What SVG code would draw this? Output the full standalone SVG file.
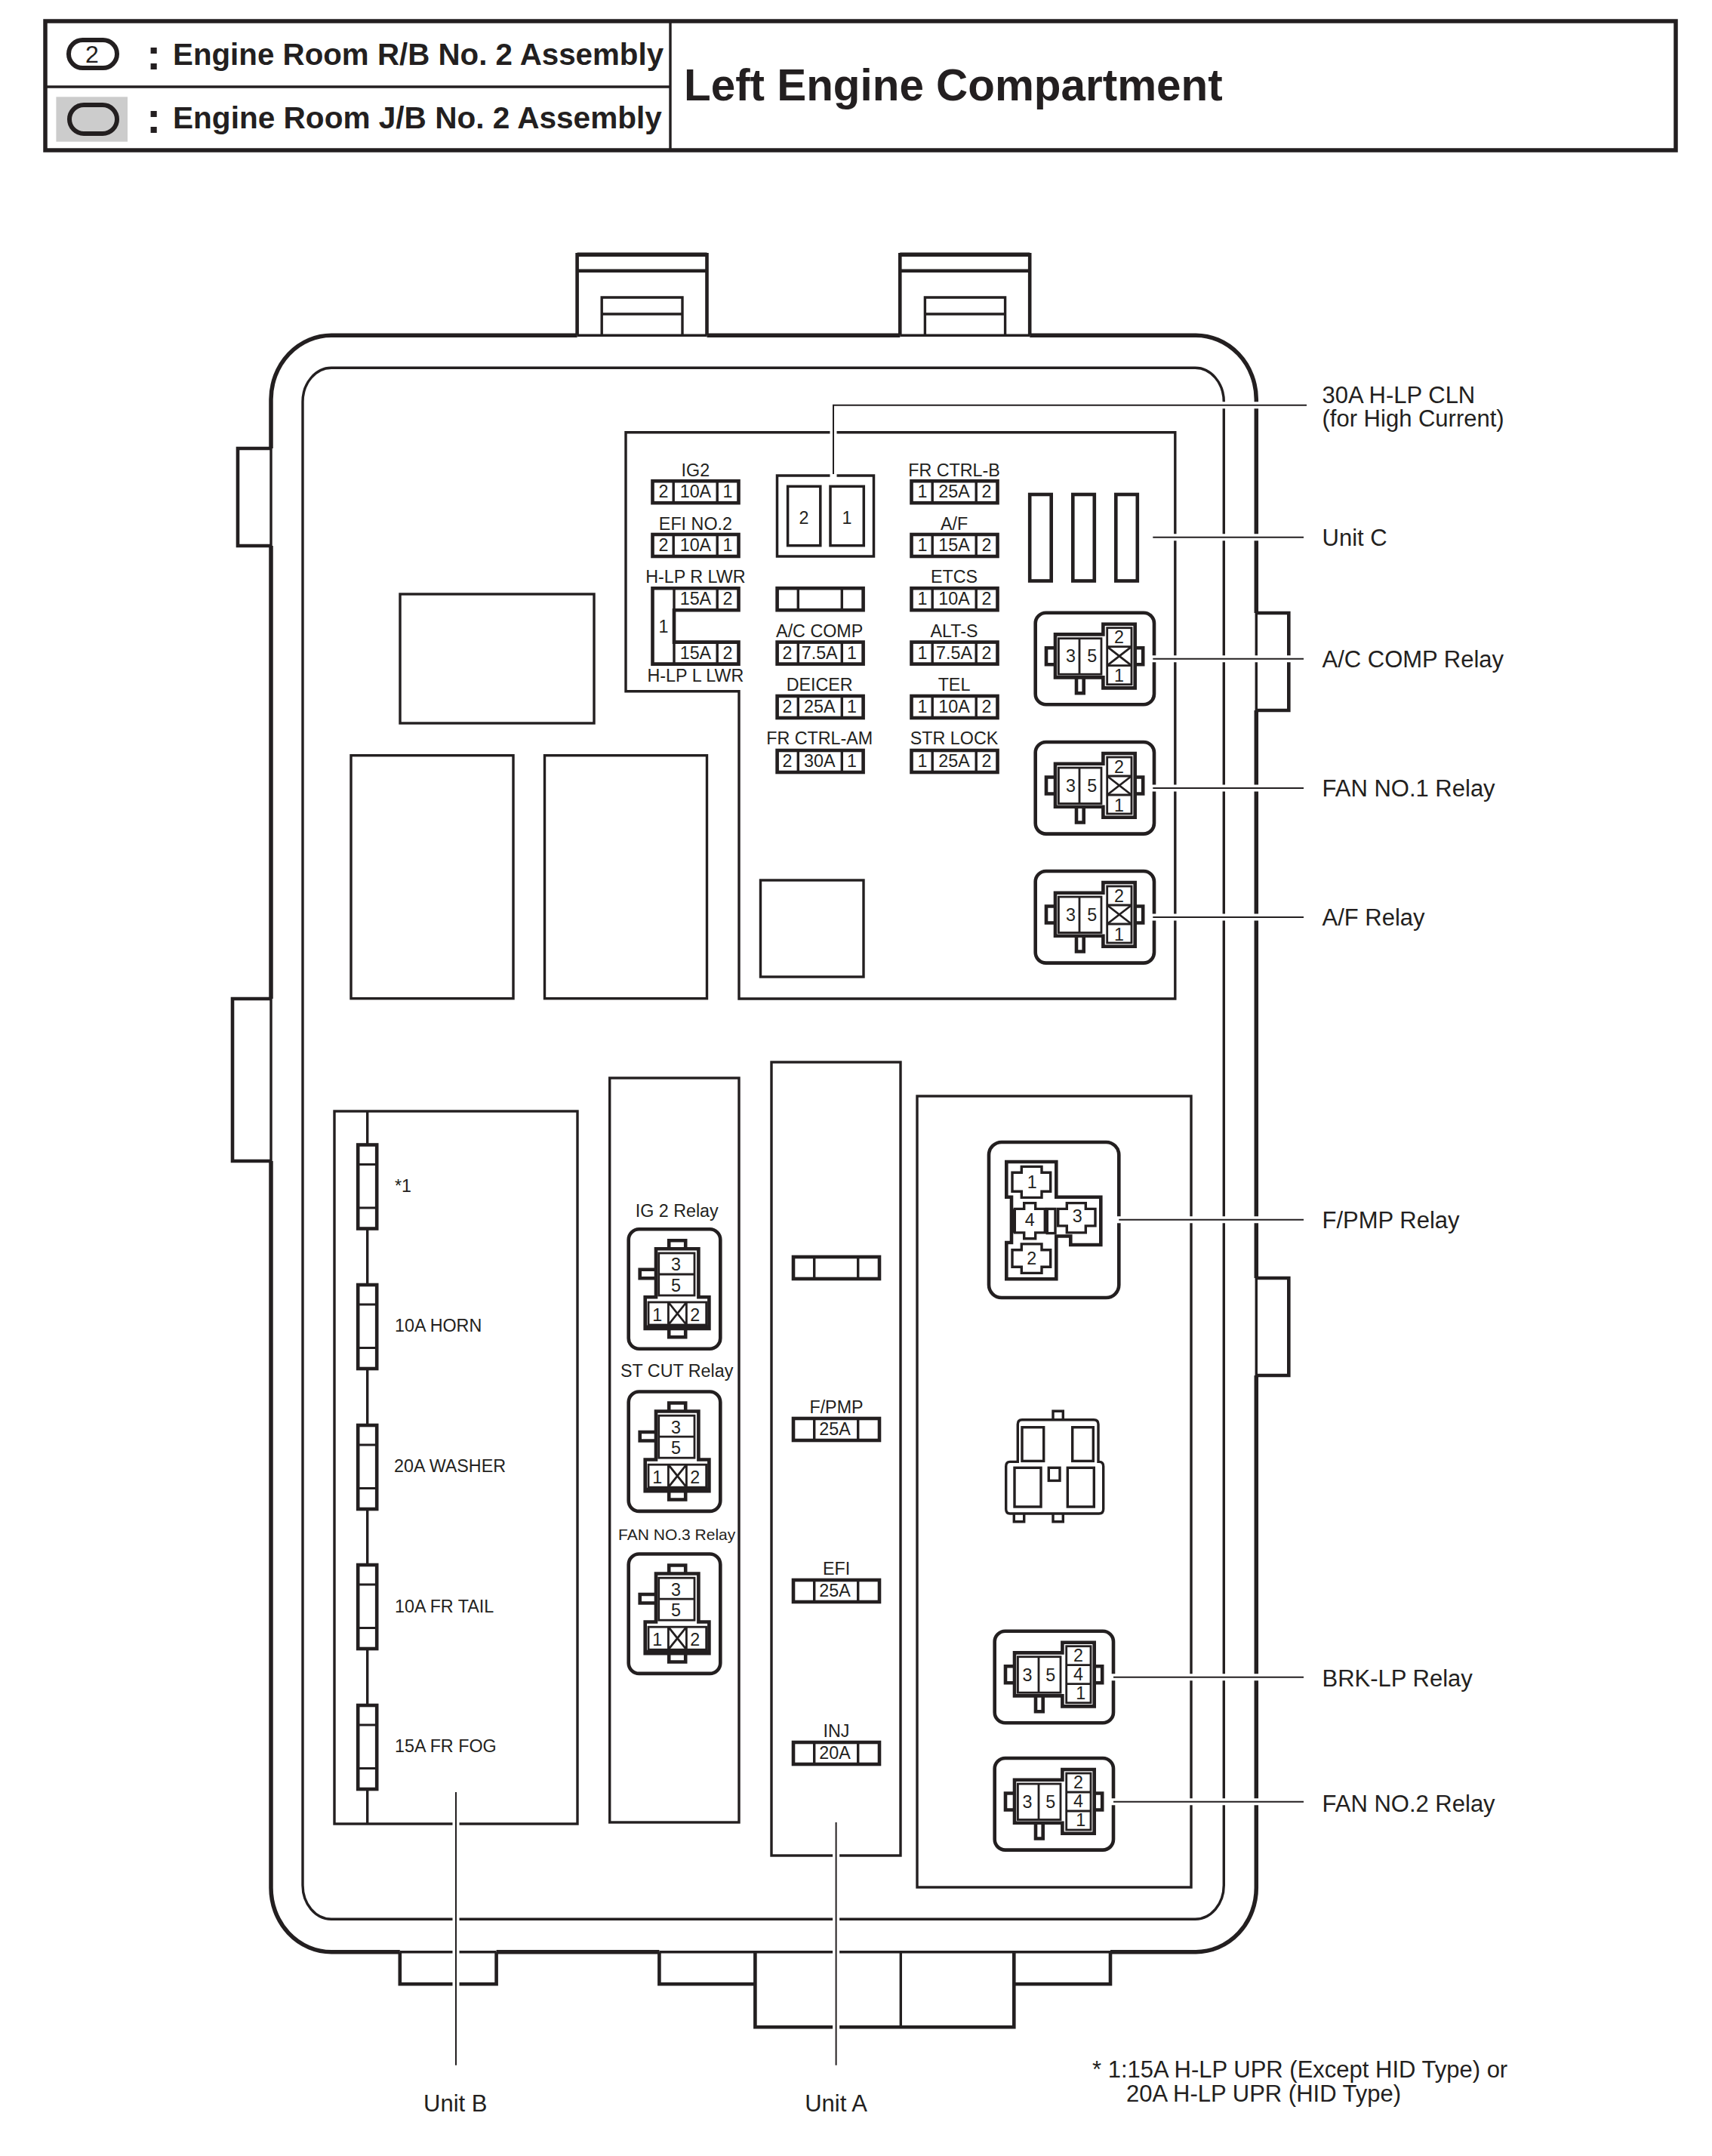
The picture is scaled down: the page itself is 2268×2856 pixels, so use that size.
<svg xmlns="http://www.w3.org/2000/svg" xmlns:xlink="http://www.w3.org/1999/xlink" width="2268" height="2856" viewBox="0 0 2268 2856">
<style>
text{font-family:"Liberation Sans",Arial,sans-serif;fill:#231f20}
.s{font-size:23.3px;text-anchor:middle}
.l{font-size:31px}
.u{font-size:23.3px}
.h{font-size:40.3px;font-weight:bold}
.c{font-size:58px;font-weight:bold;text-anchor:middle}
.o{fill:none;stroke:#231f20;stroke-linejoin:miter}
.t5{stroke-width:5.5}.t4{stroke-width:4.6}.t35{stroke-width:3.5}.t3{stroke-width:3.4}.t2{stroke-width:2.8}
.lead{fill:none;stroke:#231f20;stroke-width:2}
.gap{fill:none;stroke:#fff;stroke-width:9}
</style>
<defs>
<g id="fuse" class="o">
<rect class="t4" x="0" y="0" width="114" height="29"/>
<path class="t3" d="M27.7 0V29M85.7 0V29"/>
</g>
<g id="vfuse" class="o">
<rect class="t4" x="0" y="0" width="25" height="111" style="fill:#fff"/>
<path class="t2" d="M0 26H25M0 83.5H25"/>
</g>
<g id="relayH" class="o">
<rect class="t4" x="0" y="0" width="157.3" height="121.6" rx="14"/>
<path class="t4" d="M26.3 28.7H89.7V15H132V99.7H89.7V85.7H26.3Z"/>
<rect class="t2" x="30.7" y="34" width="56.6" height="47.5"/>
<rect class="t2" x="95" y="20" width="32.3" height="75"/>
<path class="t2" d="M58.3 34V81.5M95 45H127.3M95 70H127.3"/>
<path class="t4" d="M26.3 46.5H14.3V68.5H26.3M132 46.5H142.5V68.5H132M54.3 85.7V106.5H64V85.7"/>
</g>
<g id="relayX" class="o">
<use href="#relayH" xlink:href="#relayH"/>
<path class="t2" d="M95 45L127.3 70M127.3 45L95 70"/>
</g>
<g id="relayV" class="o">
<rect class="t4" x="0" y="0" width="121.6" height="158.4" rx="14"/>
<path class="t4" d="M36.3 26H92.7V90H106.7V131.7H22V90H36.3Z"/>
<rect class="t2" x="40" y="31.7" width="47.3" height="56"/>
<rect class="t2" x="26.3" y="96.7" width="76.7" height="30"/>
<path class="t2" d="M40 59.7H87.3M52.7 96.7V126.7M76.7 96.7V126.7M52.7 96.7L76.7 126.7M76.7 96.7L52.7 126.7"/>
<path class="t4" d="M53.5 26V15H75.5V26M53.5 131.7V143H75.5V131.7M36.3 53.5H15V65H36.3"/>
<path class="t5" d="M22 130H106.7"/>
</g>
</defs>

<g id="header">
<rect class="o t5" x="60" y="28" width="2160" height="171"/>
<path class="o t3" d="M60 115H888M888 28V199"/>
<rect x="74.4" y="128.3" width="94.6" height="59.4" fill="#ccc"/>
<rect class="o" stroke-width="6" x="91" y="53" width="64" height="37" rx="18.5"/>
<text x="122" y="83" font-size="32" text-anchor="middle">2</text>
<rect class="o" stroke-width="6" x="92" y="139" width="63" height="38" rx="19"/>
<text class="c" x="203.6" y="92">:</text>
<text class="c" x="203.6" y="176">:</text>
<text class="h" x="229" y="85.5">Engine Room R/B No. 2 Assembly</text>
<text class="h" x="229" y="169.5" style="font-size:40.6px">Engine Room J/B No. 2 Assembly</text>
<text x="906" y="133" font-size="58.4" font-weight="bold">Left Engine Compartment</text>
</g>

<g id="housing">
<path class="o t5" d="M936.5 444.3H1192.3M1364.2 444.3H1584A80 85 0 0 1 1664.3 529V812M1664.3 941V1693M1664.3 1822V2500A80 85 0 0 1 1584 2585.7H1471M873.4 2585.7H657.6M529.8 2585.7H439A80 85 0 0 1 359 2500V1538M359 1323V723M359 594V529A80 85 0 0 1 439 444.3H764.6"/>
<path class="o t3" d="M764.6 444.3H936.5M1192.3 444.3H1364.2M529.8 2585.7H657.6M873.4 2585.7H1471M1664.3 812V941M1664.3 1693V1822M359 1538V1323M359 723V594"/>
<rect class="o t3" x="401" y="487.3" width="1220.3" height="2055" rx="38" ry="45"/>
<path class="o t4" d="M764.6 444.3V337.3H936.5V444.3M764.6 358.7H936.5M1192.3 444.3V337.3H1364.2V444.3M1192.3 358.7H1364.2"/>
<path class="o t5" d="M764.6 337.3H936.5M1192.3 337.3H1364.2"/>
<path class="o t3" d="M797.2 444.3V394H904V444.3M797.2 416H904M1225.4 444.3V394H1331.6V444.3M1225.4 416H1331.6"/>
<path class="o t4" d="M359 594H315V723H359M359 1323H308V1538H359M1664.3 812H1707.3V941H1664.3M1664.3 1693H1707.3V1822H1664.3"/>
<path class="o t4" d="M529.8 2585.7V2628.3H657.6V2585.7M873.4 2585.7V2628.3H1000.4M1471 2585.7V2628.3H1343.3"/>
<path class="o t4" d="M1000.4 2585.7V2685.3H1343.3V2585.7"/>
<path class="o t3" d="M1193.3 2585.7V2685.3"/>
<rect class="o t3" x="530" y="787" width="257" height="171"/>
<rect class="o t3" x="465" y="1000.7" width="215" height="322"/>
<rect class="o t3" x="721.5" y="1000.7" width="215" height="322"/>
<rect class="o t3" x="1007.5" y="1166" width="136.5" height="128"/>
</g>

<g id="unit-c-panel">
<path class="o t3" d="M829 572.7V915.7H979V1323H1556.8V572.7Z"/>
<rect class="o t35" x="1029.5" y="630" width="128" height="107"/>
<rect class="o t35" x="1043.6" y="644.3" width="43.2" height="78.4"/>
<rect class="o t35" x="1100" y="644.3" width="44.3" height="78.4"/>
<text class="s" x="1065" y="694">2</text>
<text class="s" x="1122" y="694">1</text>
<rect class="o t4" x="1364.2" y="655" width="28.5" height="114.5"/>
<rect class="o t4" x="1421.3" y="655" width="28.5" height="114.5"/>
<rect class="o t4" x="1478.3" y="655" width="28.5" height="114.5"/>
</g>

<g id="fuse-ig2"><text class="s" x="921.4" y="630.5">IG2</text><use href="#fuse" xlink:href="#fuse" x="864.5" y="637.2"/><text class="s" x="879" y="659.3">2</text><text class="s" x="921.4" y="659.3">10A</text><text class="s" x="964" y="659.3">1</text></g>
<g id="fuse-efi2"><text class="s" x="921.4" y="701.5">EFI NO.2</text><use href="#fuse" xlink:href="#fuse" x="864.5" y="708"/><text class="s" x="879" y="730">2</text><text class="s" x="921.4" y="730">10A</text><text class="s" x="964" y="730">1</text></g>
<g id="fuse-hlp">
<text class="s" x="921.4" y="772">H-LP R LWR</text>
<path class="o t4" d="M978.5 779.2H864.5V879.6H978.5V850.6H893V808.2H978.5Z"/>
<path class="o t3" d="M893 779.2V808.2M893 850.6V879.6M950.2 779.2V808.2M950.2 850.6V879.6"/>
<text class="s" x="879" y="838">1</text>
<text class="s" x="921.4" y="801">15A</text><text class="s" x="964" y="801">2</text>
<text class="s" x="921.4" y="872.5">15A</text><text class="s" x="964" y="872.5">2</text>
<text class="s" x="921.4" y="902.7">H-LP L LWR</text>
</g>

<g id="fuse-blank"><use href="#fuse" xlink:href="#fuse" x="1029.6" y="779.2"/></g>
<g id="fuse-ac"><text class="s" x="1085.7" y="844">A/C COMP</text><use href="#fuse" xlink:href="#fuse" x="1029.6" y="850.6"/><text class="s" x="1043" y="872.5">2</text><text class="s" x="1085.7" y="872.5">7.5A</text><text class="s" x="1128.6" y="872.5">1</text></g>
<g id="fuse-deicer"><text class="s" x="1085.7" y="915">DEICER</text><use href="#fuse" xlink:href="#fuse" x="1029.6" y="922"/><text class="s" x="1043" y="944">2</text><text class="s" x="1085.7" y="944">25A</text><text class="s" x="1128.6" y="944">1</text></g>
<g id="fuse-frctrlam"><text class="s" x="1085.7" y="986">FR CTRL-AM</text><use href="#fuse" xlink:href="#fuse" x="1029.6" y="994"/><text class="s" x="1043" y="1016">2</text><text class="s" x="1085.7" y="1016">30A</text><text class="s" x="1128.6" y="1016">1</text></g>

<g id="fuse-frctrlb"><text class="s" x="1264" y="630.5">FR CTRL-B</text><use href="#fuse" xlink:href="#fuse" x="1207.5" y="637.2"/><text class="s" x="1222" y="659.3">1</text><text class="s" x="1264" y="659.3">25A</text><text class="s" x="1307" y="659.3">2</text></g>
<g id="fuse-af"><text class="s" x="1264" y="701.5">A/F</text><use href="#fuse" xlink:href="#fuse" x="1207.5" y="708"/><text class="s" x="1222" y="730">1</text><text class="s" x="1264" y="730">15A</text><text class="s" x="1307" y="730">2</text></g>
<g id="fuse-etcs"><text class="s" x="1264" y="772">ETCS</text><use href="#fuse" xlink:href="#fuse" x="1207.5" y="779.2"/><text class="s" x="1222" y="801">1</text><text class="s" x="1264" y="801">10A</text><text class="s" x="1307" y="801">2</text></g>
<g id="fuse-alts"><text class="s" x="1264" y="844">ALT-S</text><use href="#fuse" xlink:href="#fuse" x="1207.5" y="850.6"/><text class="s" x="1222" y="872.5">1</text><text class="s" x="1264" y="872.5">7.5A</text><text class="s" x="1307" y="872.5">2</text></g>
<g id="fuse-tel"><text class="s" x="1264" y="915">TEL</text><use href="#fuse" xlink:href="#fuse" x="1207.5" y="922"/><text class="s" x="1222" y="944">1</text><text class="s" x="1264" y="944">10A</text><text class="s" x="1307" y="944">2</text></g>
<g id="fuse-strlock"><text class="s" x="1264" y="986">STR LOCK</text><use href="#fuse" xlink:href="#fuse" x="1207.5" y="994"/><text class="s" x="1222" y="1016">1</text><text class="s" x="1264" y="1016">25A</text><text class="s" x="1307" y="1016">2</text></g>

<g id="relay-ac-comp"><use href="#relayX" xlink:href="#relayX" x="1371.7" y="811.7"/><text class="s" x="1418.4" y="877.4">3</text><text class="s" x="1446.7" y="877.4">5</text><text class="s" x="1482.4" y="852.4">2</text><text class="s" x="1482.4" y="903.4">1</text></g>
<g id="relay-fan1"><use href="#relayX" xlink:href="#relayX" x="1371.7" y="983"/><text class="s" x="1418.4" y="1048.7">3</text><text class="s" x="1446.7" y="1048.7">5</text><text class="s" x="1482.4" y="1023.7">2</text><text class="s" x="1482.4" y="1074.7">1</text></g>
<g id="relay-af"><use href="#relayX" xlink:href="#relayX" x="1371.7" y="1154"/><text class="s" x="1418.4" y="1219.7">3</text><text class="s" x="1446.7" y="1219.7">5</text><text class="s" x="1482.4" y="1194.7">2</text><text class="s" x="1482.4" y="1245.7">1</text></g>

<g id="unit-b">
<rect class="o t3" x="443" y="1472" width="322" height="944"/>
<path class="o t3" d="M486.7 1472V2416"/>
<use href="#vfuse" xlink:href="#vfuse" x="474.2" y="1516.5"/><use href="#vfuse" xlink:href="#vfuse" x="474.2" y="1702"/><use href="#vfuse" xlink:href="#vfuse" x="474.2" y="1888"/><use href="#vfuse" xlink:href="#vfuse" x="474.2" y="2073"/><use href="#vfuse" xlink:href="#vfuse" x="474.2" y="2259"/>
<text class="u" x="523" y="1579">*1</text>
<text class="u" x="523" y="1764">10A HORN</text>
<text class="u" x="522" y="1950">20A WASHER</text>
<text class="u" x="523" y="2136">10A FR TAIL</text>
<text class="u" x="523" y="2321">15A FR FOG</text>
</g>
<g id="relay-panel"><rect class="o t3" x="807.7" y="1428" width="171.3" height="986"/></g>
<g id="relay-ig2"><text class="s" x="896.7" y="1612">IG 2 Relay</text><use href="#relayV" xlink:href="#relayV" x="832.7" y="1628.3"/><text class="s" x="895.4" y="1683.3">3</text><text class="s" x="895.4" y="1711">5</text><text class="s" x="870.7" y="1750">1</text><text class="s" x="920.7" y="1750">2</text></g>
<g id="relay-stcut"><text class="s" x="896.7" y="1824">ST CUT Relay</text><use href="#relayV" xlink:href="#relayV" x="832.7" y="1843.5"/><text class="s" x="895.4" y="1898.5">3</text><text class="s" x="895.4" y="1926.2">5</text><text class="s" x="870.7" y="1965.2">1</text><text class="s" x="920.7" y="1965.2">2</text></g>
<g id="relay-fan3"><text class="s" x="896.7" y="2040" style="font-size:21px">FAN NO.3 Relay</text><use href="#relayV" xlink:href="#relayV" x="832.7" y="2058.5"/><text class="s" x="895.4" y="2113.5">3</text><text class="s" x="895.4" y="2141.2">5</text><text class="s" x="870.7" y="2180.2">1</text><text class="s" x="920.7" y="2180.2">2</text></g>

<g id="unit-a">
<rect class="o t3" x="1022" y="1407" width="171" height="1051"/>
<use href="#fuse" xlink:href="#fuse" x="1051" y="1665"/>
<text class="s" x="1108" y="1872">F/PMP</text><use href="#fuse" xlink:href="#fuse" x="1051" y="1879"/><text class="s" x="1106" y="1901">25A</text>
<text class="s" x="1108" y="2086">EFI</text><use href="#fuse" xlink:href="#fuse" x="1051" y="2093"/><text class="s" x="1106" y="2115">25A</text>
<text class="s" x="1108" y="2301">INJ</text><use href="#fuse" xlink:href="#fuse" x="1051" y="2308"/><text class="s" x="1106" y="2330">20A</text>
</g>

<g id="right-panel"><rect class="o t3" x="1215" y="1452" width="363" height="1048"/></g>
<g id="relay-fpmp">
<rect class="o t4" x="1310" y="1513" width="172.3" height="206" rx="17"/>
<path class="o t4" d="M1333.3 1539H1399.3V1585.7H1458.3V1649H1418.3V1637.5H1399.3V1694.3H1333.3V1646H1340V1585.7H1333.3Z"/>
<path class="o t3" d="M1353.3 1545.4H1380V1553.2H1391.7V1578.2H1380V1586.4H1353.3V1578.2H1341V1553.2H1353.3Z"/>
<path class="o t3" d="M1353.3 1647.9H1380V1655.7H1391.7V1678.2H1380V1686.4H1353.3V1678.2H1341V1655.7H1353.3Z"/>
<path class="o t3" d="M1413.3 1593.6H1438.3V1601.4H1451V1623.9H1438.3V1632.9H1413.3V1623.9H1401.7V1601.4H1413.3Z"/>
<path class="o t3" d="M1356.7 1593.6H1371.7V1601.4H1384.3V1632.9H1371.7V1640.7H1356.7V1632.9H1344.3V1601.4H1356.7Z"/>
<path class="o t4" d="M1342 1601.4V1633"/>
<rect class="o t3" x="1387.3" y="1601.4" width="10.7" height="32.2"/>
<text class="s" x="1367.3" y="1573.6">1</text><text class="s" x="1366.7" y="1674.6">2</text><text class="s" x="1427.3" y="1619.3">3</text><text class="s" x="1364.3" y="1623.6">4</text>
</g>
<g id="connector-blank">
<path class="o t3" d="M1348.3 1936.4V1886.7Q1348.3 1880.7 1354 1880.7H1449Q1455 1880.7 1455 1886.7V1936.4H1456Q1461.7 1936.4 1461.7 1942.4V1999Q1461.7 2005 1456 2005H1338Q1332.7 2005 1332.7 1999V1942.4Q1332.7 1936.4 1338 1936.4Z"/>
<path class="o t3" d="M1395 1880.7V1869.3H1408.3V1880.7M1343.3 2005V2015.7H1356.7V2005M1395 2005V2015.7H1408.3V2005"/>
<rect class="o t3" x="1354" y="1890.7" width="28.7" height="44.7"/>
<rect class="o t3" x="1420.7" y="1890.7" width="27.6" height="44.7"/>
<rect class="o t3" x="1344" y="1944.3" width="35" height="51.7"/>
<rect class="o t3" x="1414.3" y="1944.3" width="35" height="51.7"/>
<rect class="o t3" x="1389.3" y="1944.3" width="14.7" height="17.1"/>
</g>
<g id="relay-brklp"><use href="#relayH" xlink:href="#relayH" x="1317.7" y="2160.7"/><text class="s" x="1361" y="2226.7">3</text><text class="s" x="1391.7" y="2226.7">5</text><text class="s" x="1428.4" y="2200.7">2</text><text class="s" x="1428.4" y="2225.7">4</text><text class="s" x="1431.7" y="2250.7">1</text></g>
<g id="relay-fan2"><use href="#relayH" xlink:href="#relayH" x="1317.7" y="2329"/><text class="s" x="1361" y="2395">3</text><text class="s" x="1391.7" y="2395">5</text><text class="s" x="1428.4" y="2369">2</text><text class="s" x="1428.4" y="2394">4</text><text class="s" x="1431.7" y="2419">1</text></g>

<g id="connectors">
<path class="gap" d="M1104 570V578M1104 628V632M1617 536.7H1625M1660 536.7H1668M1553 711.7H1561M1617 711.7H1625M1660 711.7H1668M1525 872.7H1533M1553 872.7H1561M1617 872.7H1625M1660 872.7H1668M1703 872.7H1711M1525 1044H1533M1553 1044H1561M1617 1044H1625M1660 1044H1668M1525 1215H1533M1553 1215H1561M1617 1215H1625M1660 1215H1668M1478 1615.7H1486M1574 1615.7H1582M1617 1615.7H1625M1660 1615.7H1668M1471 2221.7H1479M1574 2221.7H1582M1617 2221.7H1625M1660 2221.7H1668M1471 2386.7H1479M1574 2386.7H1582M1617 2386.7H1625M1660 2386.7H1668M604 2412V2420M604 2538V2546M604 2581V2590M604 2624V2632M1107.6 2454V2462M1107.6 2538V2546M1107.6 2581V2590M1107.6 2681V2689"/>
<path class="lead" d="M1104 628V536.7H1731M1527.3 711.7H1727M1527.3 872.7H1727M1527.3 1044H1727M1527.3 1215H1727M1482.3 1615.7H1727M1475 2221.7H1727M1475 2386.7H1727M604 2374V2735.7M1107.6 2414V2735.7"/>
</g>

<g id="labels">
<text class="l" x="1751.5" y="534">30A H-LP CLN</text>
<text class="l" x="1751.5" y="565">(for High Current)</text>
<text class="l" x="1751.5" y="723">Unit C</text>
<text class="l" x="1751.5" y="884">A/C COMP Relay</text>
<text class="l" x="1751.5" y="1055">FAN NO.1 Relay</text>
<text class="l" x="1751.5" y="1226">A/F Relay</text>
<text class="l" x="1751.5" y="1627">F/PMP Relay</text>
<text class="l" x="1751.5" y="2234">BRK-LP Relay</text>
<text class="l" x="1751.5" y="2400">FAN NO.2 Relay</text>
<text class="l" x="603.3" y="2796.7" text-anchor="middle">Unit B</text>
<text class="l" x="1107.6" y="2796.7" text-anchor="middle">Unit A</text>
<text class="l" x="1447" y="2752">* 1:15A H-LP UPR (Except HID Type) or</text>
<text class="l" x="1492" y="2784">20A H-LP UPR (HID Type)</text>
</g>
</svg>
